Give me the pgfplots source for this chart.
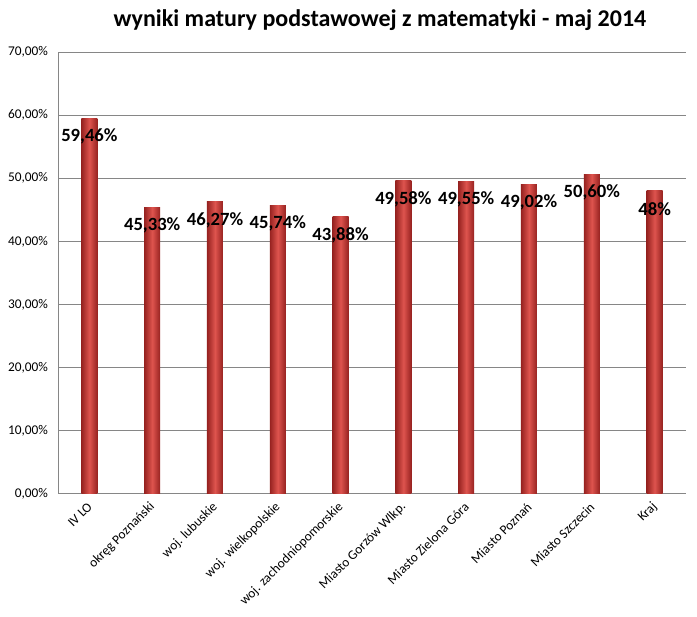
\documentclass[border=0pt]{standalone}
\usepackage{fontspec}
\setmainfont{Carlito}
\usepackage{pgfplots}
\pgfplotsset{compat=1.18}
\definecolor{barmid}{RGB}{222,84,78}
\definecolor{baredge}{RGB}{150,34,32}
\definecolor{gridc}{RGB}{134,134,134}
\pgfplotsset{barsty/.style={ybar, bar width=12pt, bar shift=0pt, draw=none,
  left color=baredge, right color=baredge, middle color=barmid,
  nodes near coords, point meta=explicit symbolic,
  every node near coord/.append style={anchor=center, yshift=-13.5pt,
    font=\fontsize{14}{16}\selectfont\bfseries, text=black}}}
\begin{document}
\begin{tikzpicture}
\useasboundingbox (0,0) rectangle (522.75pt,462.75pt);
\node[font=\fontsize{18}{20}\selectfont\bfseries] at (285pt,447.75pt) {wyniki matury podstawowej z matematyki - maj 2014};
\begin{axis}[
  at={(43.5pt,92.25pt)}, anchor=south west,
  scale only axis, width=471pt, height=331.5pt,
  xmin=-0.5, xmax=9.5, ymin=0, ymax=70,
  ytick={0,10,...,70},
  yticklabels={{0,00\%},{10,00\%},{20,00\%},{30,00\%},{40,00\%},{50,00\%},{60,00\%},{70,00\%}},
  xtick={0,...,9},
  xticklabels={IV LO,okręg Poznański,woj. lubuskie,woj. wielkopolskie,woj. zachodniopomorskie,Miasto Gorzów Wlkp.,Miasto Zielona Góra,Miasto Poznań,Miasto Szczecin,Kraj},
  xticklabel style={rotate=45, anchor=east, font=\fontsize{10}{12}\selectfont, yshift=-6pt, xshift=-2pt},
  yticklabel style={font=\fontsize{10}{12}\selectfont, xshift=-4pt},
  ymajorgrids, grid style={gridc, line width=0.75pt},
  axis lines*=left,
  axis line style={gridc, line width=0.75pt},
  major tick style={draw=none},
  clip=false,
]
\addplot[barsty] coordinates {(0,59.46) [59,46\%]};
\addplot[barsty] coordinates {(1,45.33) [45,33\%]};
\addplot[barsty] coordinates {(2,46.27) [46,27\%]};
\addplot[barsty] coordinates {(3,45.74) [45,74\%]};
\addplot[barsty] coordinates {(4,43.88) [43,88\%]};
\addplot[barsty] coordinates {(5,49.58) [49,58\%]};
\addplot[barsty] coordinates {(6,49.55) [49,55\%]};
\addplot[barsty] coordinates {(7,49.02) [49,02\%]};
\addplot[barsty] coordinates {(8,50.60) [50,60\%]};
\addplot[barsty] coordinates {(9,48) [48\%]};
\end{axis}
\end{tikzpicture}
\end{document}
